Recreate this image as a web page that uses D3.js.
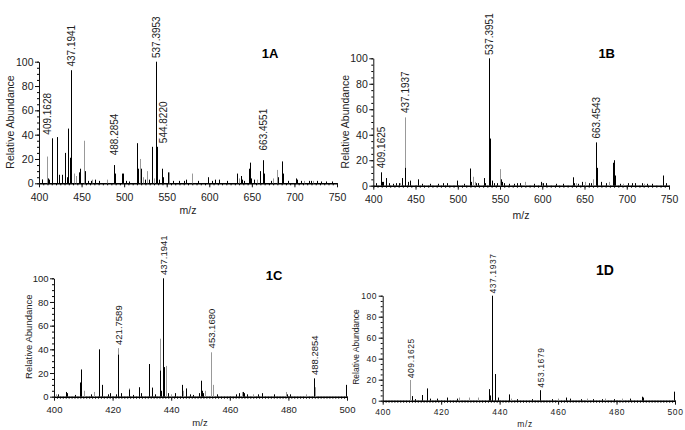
<!DOCTYPE html>
<html>
<head>
<meta charset="utf-8">
<script src="https://cdn.jsdelivr.net/npm/d3@7"></script>
<style>
  body { margin: 0; background: #fff; }
  svg { font-family: "Liberation Sans", Arial, sans-serif; }
</style>
</head>
<body>
<svg id="chart" width="685" height="430"></svg>
<script>
// peaks: [m/z, relative abundance]
const blackA = [[403,3],[404,3],[410,4],[412,3],[414.8,37],[415.5,8],[420.8,38],[421.5,13],[423.5,7],[427,7],[431,25],[432.5,5],[434.3,45],[436.3,21],[437.2,93],[437.8,24],[446.5,9],[448.5,12],[454.3,10],[458,2],[461,2],[466,3],[471,2],[488.2,15],[489,8],[498,8],[499,8],[502,2],[506,1.5],[515.3,33],[516.2,12],[520.3,12],[525,3],[529.5,3],[532.2,30],[533,8],[537.4,100],[538.3,30],[540.5,3],[544.8,12],[546,5],[551,9],[552,4],[557,2],[565,2],[570,2],[573,3],[587,2],[599,5],[603,2],[607,3],[611,3],[621,2],[632.5,8],[637,6],[639,3],[641,2],[647,12],[647.8,17],[649,4],[652,3],[659.5,10],[663.4,19],[664.3,8],[672,2],[681,5],[685.8,18],[686.6,8],[692,2],[702,4],[703,3],[708,2],[717,2],[720,2],[726,2],[731,1.5],[737,1.5],[744,1.5]];
const greyA = [[409,22],[441.5,8],[443.5,6],[453,35],[462,3],[479.5,3],[518.5,20],[522.5,5],[526.5,10],[535,4],[553,9],[579.5,8],[634.5,4],[656,3],[675,4],[679.8,11],[693,2],[711,2],[722,2]];
const labelsA = [[409,40,"409.1628"],[437.2,96,"437.1941"],[488.2,23,"488.2854"],[537.4,103,"537.3953"],[545.5,33,"544.8220"],[663.6,27,"663.4551"]];

const blackB = [[403,2],[409.2,10.5],[410.5,3],[412,3],[414.6,6],[418,2],[423,1.5],[427,2],[431,2],[434.3,6],[437.5,14],[438,5],[441,3],[443,4],[452.5,5],[458,1.5],[467,1.5],[476,1.5],[482,2],[487,2],[498.5,4],[507,1.5],[514.5,13.5],[516,3],[521,2],[524,2],[531,6],[532.5,2],[537.4,100],[537.9,37],[538.4,30],[540,4],[543,2],[546,2],[551,5],[552,3],[555,2],[561,1.5],[566,1.5],[570,2],[574,2],[590,1.5],[599,3],[601,2],[605,2],[616,1.5],[624,1.5],[636.8,6.6],[638,2],[642,1.5],[647,3],[655,2],[658,2],[663.4,34],[664.2,13],[665,14],[670,3],[676,2],[684.3,18],[685.3,20],[686.2,8],[692,1.5],[701,2],[706,2],[710,2],[718,2],[724,1.5],[730,1.5],[743.3,8],[746,2]];
const greyB = [[432,2],[437.2,53.6],[518,7],[520,3],[549.5,13],[580,3],[600,2],[640,2],[650,3],[660,5],[679,3],[695,1.5],[720,1.5]];
const labelsB = [[409.2,13.6,"409.1625"],[437.2,57,"437.1937"],[537.4,102.6,"537.3951"],[663.4,37,"663.4543"]];

const blackC = [[401.5,2],[404.2,4],[404.5,3],[407,1.5],[409,12],[409.1,23],[412.5,2],[415.5,40],[416.5,10],[418.6,2],[419.2,3],[421,2],[421.8,35.5],[422,15],[423,3],[425.6,6],[427,1.5],[429.1,8],[429.6,3],[432.5,27.6],[433.5,7.7],[434.5,2],[436.1,22],[436.6,5],[437.2,100],[437.5,25],[439,3],[441.3,3],[443.6,10],[445.2,7],[446.5,2],[447.5,1.5],[449.5,3],[450.2,13.5],[450.5,5],[451,3],[455.5,2],[462,2],[463.3,3],[464.4,4],[465,3],[466,2],[469.5,2],[471,3],[475,2],[479.5,2],[480.5,2],[488.75,15.5],[499.7,10]];
const greyC = [[400.8,2],[410.2,5],[413.6,4],[422,41],[425.5,7],[436.1,49],[438.3,26],[440,2],[444,5],[450,5],[451.5,5],[453.5,37.5],[454.4,10],[464,4],[468,2],[479.2,4],[486,2],[489,8]];
const labelsC = [[421.8,43.7,"421.7589"],[437.2,102.8,"437.1941"],[453.5,40.8,"453.1680"],[488.75,18.3,"488.2854"]];

const blackD = [[410.1,4.4],[411.2,1.5],[413.6,5.4],[415.3,11.7],[416.2,2],[418.5,2],[421.9,3],[425.5,2],[436.3,11],[436.7,5],[437.3,5],[437.5,100],[438.5,25.4],[439.5,3],[443.2,6],[443.3,5],[446,1.5],[451,1.5],[453.7,10],[458,1.5],[462.6,3],[464,2],[468,1.5],[472,1.5],[475,1.5],[479,1.5],[484.5,2],[488.6,3.8],[488.9,3],[499.8,8.6]];
const greyD = [[409.3,19.7],[426,3],[429.5,3],[432.5,3],[444,2],[460,2],[470,2],[476,2],[482,2]];
const labelsD = [[409.3,21.3,"409.1625"],[437.5,102,"437.1937"],[453.7,12.4,"453.1679"]];

const yTicks = [0, 20, 40, 60, 80, 100];

const svg = d3.select("#chart");

function drawPanel(p) {
  const x = d3.scaleLinear().domain(p.domain).range([p.x0, p.x1]);
  const y = d3.scaleLinear().domain([0, 100]).range([p.yBot, p.yTop]);
  const g = svg.append("g");
  const px = v => Math.round(x(v)) + 0.5;

  // minor ticks first, then the main axes on top
  g.append("g")
    .attr("transform", `translate(0,${p.yBot})`)
    .call(d3.axisBottom(x).tickValues(d3.range(p.domain[0], p.domain[1] + 0.01, p.minor))
      .tickSize(2).tickSizeOuter(0).tickFormat(""))
    .call(a => a.select(".domain").remove());
  g.append("g")
    .attr("transform", `translate(${p.x0},0)`)
    .call(d3.axisLeft(y).tickValues(d3.range(0, 101, 5)).tickSize(2).tickSizeOuter(0).tickFormat(""))
    .call(a => a.select(".domain").remove());

  const xAxis = g.append("g")
    .attr("transform", `translate(0,${p.yBot})`)
    .call(d3.axisBottom(x).tickValues(d3.range(p.domain[0], p.domain[1] + 0.01, p.major))
      .tickSize(4).tickSizeOuter(0).tickPadding(p.xPad));
  const yAxis = g.append("g")
    .attr("transform", `translate(${p.x0},0)`)
    .call(d3.axisLeft(y).tickValues(yTicks).tickSize(4).tickSizeOuter(0).tickPadding(1.5));

  [xAxis, yAxis].forEach(a => {
    a.attr("font-family", null).attr("font-size", p.tickFont);
    a.selectAll("text").attr("fill", "#222").style("letter-spacing", p.spacing);
    a.selectAll("line").attr("stroke", "#111");
  });
  xAxis.select(".domain").attr("stroke", "#000").attr("stroke-width", 1.4);
  yAxis.select(".domain").attr("stroke", "#111");

  g.append("g").attr("stroke", "#999").attr("stroke-width", 1)
    .selectAll("line").data(p.grey).join("line")
    .attr("x1", d => px(d[0])).attr("x2", d => px(d[0]))
    .attr("y1", p.yBot).attr("y2", d => y(d[1]));
  g.append("g").attr("stroke", "#000").attr("stroke-width", 1)
    .selectAll("line").data(p.black).join("line")
    .attr("x1", d => px(d[0])).attr("x2", d => px(d[0]))
    .attr("y1", p.yBot).attr("y2", d => y(d[1]));

  // peak labels, reading upward
  g.selectAll(".pl").data(p.labels).join("text")
    .attr("transform", d => `translate(${px(d[0])},${y(d[1])}) rotate(-90)`)
    .attr("dy", "0.36em")
    .attr("font-size", p.labelFont)
    .attr("fill", "#222")
    .style("letter-spacing", p.spacing)
    .text(d => d[2]);

  g.append("text")
    .attr("x", p.title[0]).attr("y", p.title[1])
    .attr("text-anchor", "middle")
    .attr("font-size", p.titleFont).attr("font-weight", "bold")
    .text(p.name);

  g.append("text")
    .attr("transform", `translate(${p.ylab[0]},${p.ylab[1]}) rotate(-90)`)
    .attr("text-anchor", "middle").attr("dy", "0.36em")
    .attr("font-size", p.axisFont).attr("fill", "#222")
    .text("Relative Abundance");

  g.append("text")
    .attr("x", p.mz[0]).attr("y", p.mz[1])
    .attr("text-anchor", "middle")
    .attr("font-size", p.axisFont).attr("fill", "#222")
    .style("letter-spacing", p.spacing)
    .text("m/z");
}

drawPanel({ name: "1A", black: blackA, grey: greyA, labels: labelsA,
  domain: [400, 750], major: 50, minor: 5,
  x0: 39, x1: 337, yTop: 61.7, yBot: 183.3, xPad: 6,
  tickFont: 10.5, labelFont: 10, axisFont: 10.5, titleFont: 13, spacing: "0px",
  title: [270, 58], ylab: [10, 122], mz: [188, 214] });

drawPanel({ name: "1B", black: blackB, grey: greyB, labels: labelsB,
  domain: [400, 750], major: 50, minor: 5,
  x0: 373.3, x1: 669, yTop: 58.3, yBot: 185.7, xPad: 6,
  tickFont: 10.5, labelFont: 10, axisFont: 10.5, titleFont: 13, spacing: "0px",
  title: [606.7, 57.5], ylab: [345, 121.7], mz: [521, 219] });

drawPanel({ name: "1C", black: blackC, grey: greyC, labels: labelsC,
  domain: [400, 500], major: 20, minor: 1,
  x0: 54, x1: 347, yTop: 278.3, yBot: 396.7, xPad: 6,
  tickFont: 9.5, labelFont: 9.5, axisFont: 9.5, titleFont: 13, spacing: "0px",
  title: [274, 280], ylab: [28.3, 336.7], mz: [200, 426] });

drawPanel({ name: "1D", black: blackD, grey: greyD, labels: labelsD,
  domain: [400, 500], major: 20, minor: 1,
  x0: 382.7, x1: 675, yTop: 295.7, yBot: 400.7, xPad: 4,
  tickFont: 8.5, labelFont: 8.5, axisFont: 8.5, titleFont: 14, spacing: "0.6px",
  title: [605, 275], ylab: [356, 347], mz: [525, 427] });
</script>
</body>
</html>
